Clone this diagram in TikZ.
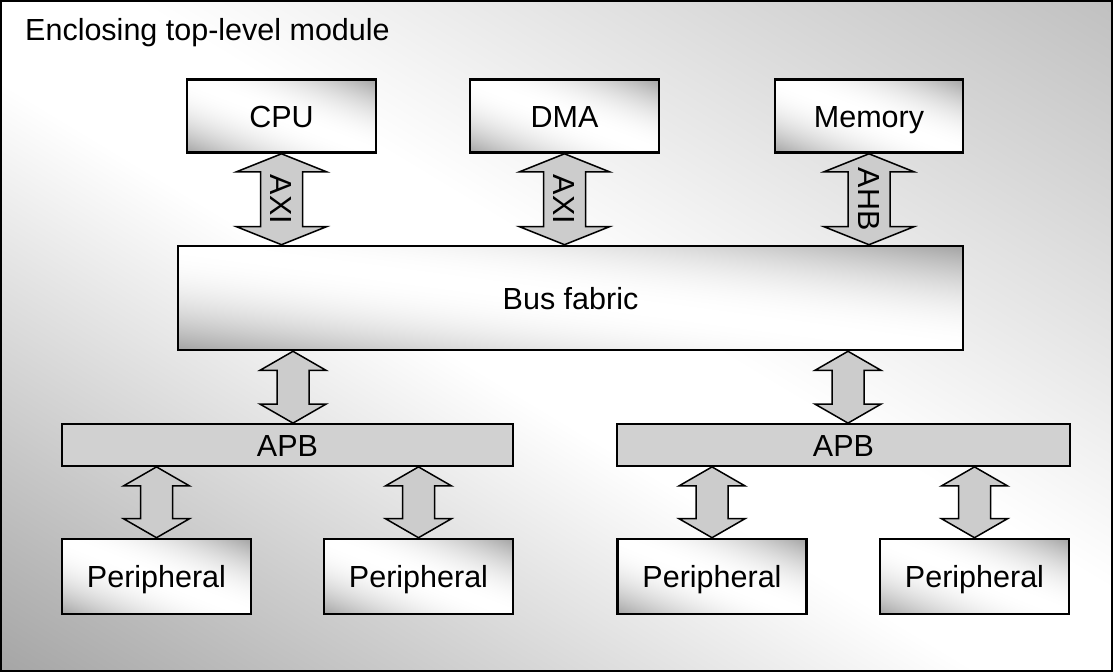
\documentclass[tikz,border=0pt]{standalone}
\usepackage{fontspec}
\setmainfont{Liberation Sans}
\usetikzlibrary{calc}
\pgfdeclarefunctionalshading{bgfun}{\pgfpoint{-50bp}{-50bp}}{\pgfpoint{50bp}{50bp}}{}{
  add 50 div dup 0 lt {neg 0.12 sub 0.40 mul} {0.12 sub 0.28 mul} ifelse
  dup 0 lt {pop 0} if 1 exch sub dup dup
}
\pgfdeclarefunctionalshading{boxfun}{\pgfpoint{-50bp}{-50bp}}{\pgfpoint{50bp}{50bp}}{}{
  add 50 div dup mul -0.36 mul 1 add dup dup
}
\tikzset{
  every node/.style={font=\fontsize{30.5}{36}\selectfont, text=black},
  gbox/.style={draw=black, line width=2.6pt, inner sep=0pt,
    shading=boxfun, text height=22pt, text depth=0pt,
    minimum width=189pt, minimum height=73pt},
  apbbox/.style={draw=black, line width=1.8pt, fill=black!18, inner sep=0pt,
    text height=22pt, text depth=0pt, minimum width=452pt, minimum height=42pt},
  barrow/.style={draw=black, line width=1.5pt, fill=black!20, line join=miter},
  lbl/.style={inner sep=0pt, rotate=-90, text height=22pt, text depth=0pt}
}
\newcommand\linkarrow[5]{%
  \draw[barrow] let \p1=(#1), \p2=(#2) in
   (\x1,\y1) -- (\x1+#3pt,\y1-#5pt) -- (\x1+#4pt,\y1-#5pt) -- (\x1+#4pt,\y2+#5pt)
   -- (\x1+#3pt,\y2+#5pt) -- (\x1,\y2) -- (\x1-#3pt,\y2+#5pt) -- (\x1-#4pt,\y2+#5pt)
   -- (\x1-#4pt,\y1-#5pt) -- (\x1-#3pt,\y1-#5pt) -- cycle;}
\begin{document}
\begin{tikzpicture}[x=1pt, y=-1pt]
\useasboundingbox (0,0) rectangle (1114,672);
% enclosing module
\shade[shading=bgfun] (1,1) rectangle (1112,671);
\draw[line width=2pt] (1,1) rectangle (1112,671);
\node[anchor=base west, inner sep=0pt] (title) at (25,40) {Enclosing top-level module};

% top row
\node[gbox] (cpu) at (281.5,116) {CPU};
\node[gbox] (dma) at (564.5,116) {DMA};
\node[gbox, minimum width=188pt] (mem) at (869,116) {Memory};
% bus fabric
\node[gbox, minimum width=785pt, minimum height=104pt] (bus) at (570.5,298) {Bus fabric};
% APB bridges
\node[apbbox, minimum width=451pt] (apbL) at (287.5,445) {APB};
\node[apbbox, minimum width=453pt] (apbR) at (843.5,445) {APB};
% peripherals
\node[gbox, minimum height=75pt] (p1) at (156.5,576.5) {Peripheral};
\node[gbox, minimum height=75pt] (p2) at (418.5,576.5) {Peripheral};
\node[gbox, minimum height=75pt] (p3) at (712,576.5) {Peripheral};
\node[gbox, minimum height=75pt] (p4) at (974.5,576.5) {Peripheral};

% big arrows top
\linkarrow{cpu.south}{cpu.south |- bus.north}{45}{21}{18}
\linkarrow{dma.south}{dma.south |- bus.north}{45}{21}{18}
\linkarrow{mem.south}{mem.south |- bus.north}{45}{21}{18}
\node[lbl] (axi1) at ($(cpu.south)!0.5!(cpu.south |- bus.north)$) {AXI};
\node[lbl] (axi2) at ($(dma.south)!0.5!(dma.south |- bus.north)$) {AXI};
\node[lbl] (ahb) at ($(mem.south)!0.5!(mem.south |- bus.north)$) {AHB};

% bus to APB
\coordinate (cL) at ([xshift=5.5pt]apbL.north);
\coordinate (cR) at ([xshift=4.5pt]apbR.north);
\linkarrow{bus.south -| cL}{cL}{33}{16}{19}
\linkarrow{bus.south -| cR}{cR}{33}{16}{19}

% APB to peripherals
\linkarrow{apbL.south -| p1.north}{p1.north}{33}{16}{19}
\linkarrow{apbL.south -| p2.north}{p2.north}{33}{16}{19}
\linkarrow{apbR.south -| p3.north}{p3.north}{33}{16}{19}
\linkarrow{apbR.south -| p4.north}{p4.north}{33}{16}{19}
\end{tikzpicture}
\end{document}
